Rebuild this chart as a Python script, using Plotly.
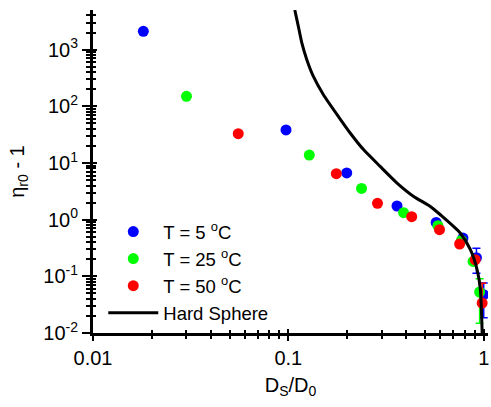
import plotly.graph_objects as go

# ---- data ----
blue_x = [0.0181, 0.0973, 0.199, 0.360, 0.571, 0.783, 0.918, 1.000]
blue_y = [2100, 38.2, 6.66, 1.74, 0.895, 0.474, 0.213, 0.0475]
blue_err = [0, 0, 0, 0, 0, 0, 0.10, 0.029]

green_x = [0.0301, 0.128, 0.237, 0.389, 0.583, 0.769, 0.882, 0.953]
green_y = [150, 13.8, 3.56, 1.33, 0.78, 0.43, 0.183, 0.0529]
green_err = [0, 0, 0, 0, 0, 0, 0, 0.038]

red_x = [0.0554, 0.176, 0.286, 0.428, 0.594, 0.753, 0.905, 0.982]
red_y = [32.9, 6.47, 1.94, 1.13, 0.665, 0.372, 0.196, 0.0338]
red_err = [0, 0, 0, 0, 0, 0, 0, 0.042]

hs_x = [0.1079, 0.1125, 0.1172, 0.1243, 0.1343, 0.1512, 0.1827, 0.2072, 0.2425,
        0.295, 0.360, 0.438, 0.533, 0.600, 0.758, 0.855, 0.925, 0.962, 0.982]
hs_y = [5000, 2572, 1310, 665, 337, 160, 62, 33.8, 17.2,
        8.7, 4.43, 2.57, 1.71, 1.22, 0.582, 0.295, 0.131, 0.058, 0.01]

legend_names = ["T = 5 <sup>o</sup>C", "T = 25 <sup>o</sup>C", "T = 50 <sup>o</sup>C", "Hard Sphere"]

x_tickvals = [0.01, 0.1, 1]
x_ticktext = ["0.01", "0.1", "1"]
y_tickvals = [0.01, 0.1, 1, 10, 100, 1000]
y_ticktext = ["10<sup>-2</sup>", "10<sup>-1</sup>", "10<sup>0</sup>",
              "10<sup>1</sup>", "10<sup>2</sup>", "10<sup>3</sup>"]

FONT = "Arial, Liberation Sans, sans-serif"

x_minor = [m * 10 ** e for e in (-2, -1) for m in range(2, 10)]
y_minor = [m * 10 ** e for e in (-2, -1, 0, 1, 2, 3) for m in range(2, 10) if m * 10 ** e < 5000]

XR = [-2, 0.022]
YR = [-2, 3.699]

fig = go.Figure()

def pts(x, y, err, color, name):
    fig.add_trace(go.Scatter(
        x=x, y=y, mode="markers", name=name,
        marker=dict(color=color, size=11, line=dict(width=0)),
        error_y=dict(type="data", array=err, visible=True, color=color,
                     thickness=1.5, width=4),
    ))

pts(blue_x, blue_y, blue_err, "#0000FF", legend_names[0])
pts(green_x, green_y, green_err, "#00FF00", legend_names[1])
pts(red_x, red_y, red_err, "#FF0000", legend_names[2])

fig.add_trace(go.Scatter(
    x=hs_x, y=hs_y, mode="lines", name=legend_names[3],
    line=dict(color="black", width=3, shape="spline", smoothing=0.6),
))

# dummy trace for overlay (inside-tick) axes
fig.add_trace(go.Scatter(x=[], y=[], xaxis="x2", yaxis="y2", showlegend=False,
                         hoverinfo="skip"))

axis_common = dict(type="log", showgrid=False, zeroline=False, automargin=False,
                   linecolor="black", linewidth=3, tickcolor="black",
                   tickwidth=2, tickfont=dict(family=FONT, size=20, color="black"))

fig.update_layout(
    width=491, height=407,
    margin=dict(l=93, r=3, t=10, b=74, autoexpand=False),
    paper_bgcolor="white", plot_bgcolor="white",
    font=dict(family=FONT, size=20, color="black"),
    showlegend=True,
    legend=dict(x=0.026, y=0.3715, xanchor="left", yanchor="top",
                bgcolor="rgba(0,0,0,0)", borderwidth=0,
                font=dict(family=FONT, size=18.5, color="black"),
                itemwidth=50, tracegroupgap=0),
    xaxis=dict(**axis_common, range=XR, showline=True,
               tickmode="array", tickvals=x_tickvals, ticktext=x_ticktext,
               ticks="outside", ticklen=5,
               minor=dict(tickmode="array", tickvals=x_minor, ticks="outside",
                          ticklen=3, tickwidth=2, tickcolor="black"),
               title=dict(text="D<sub>S</sub>/D<sub>0</sub>", standoff=10,
                          font=dict(family=FONT, size=20))),
    yaxis=dict(**axis_common, range=YR, showline=True,
               tickmode="array", tickvals=y_tickvals, ticktext=y_ticktext,
               ticks="outside", ticklen=8,
               minor=dict(tickmode="array", tickvals=y_minor, ticks="outside",
                          ticklen=4, tickwidth=2, tickcolor="black"),
               title=dict(text="η<sub>r0</sub> - 1", standoff=14,
                          font=dict(family=FONT, size=20))),
    xaxis2=dict(type="log", range=XR, overlaying="x", anchor="y", side="bottom",
                automargin=False,
                showgrid=False, zeroline=False, showline=False,
                showticklabels=False, tickmode="array", tickvals=x_tickvals,
                ticks="inside", ticklen=4, tickwidth=2, tickcolor="black",
                minor=dict(tickmode="array", tickvals=x_minor, ticks="inside",
                           ticklen=3, tickwidth=2, tickcolor="black")),
    yaxis2=dict(type="log", range=YR, overlaying="y", anchor="x", side="left",
                automargin=False,
                showgrid=False, zeroline=False, showline=False,
                showticklabels=False, tickmode="array", tickvals=y_tickvals,
                ticks="inside", ticklen=4, tickwidth=2, tickcolor="black",
                minor=dict(tickmode="array", tickvals=y_minor, ticks="inside",
                           ticklen=3, tickwidth=2, tickcolor="black")),
)

# remove the default page margin so the 491x407 figure fills the window exactly
fig.write_html("out.html",
               config={"displayModeBar": False},
               post_script="document.body.style.margin='0';"
                           "document.body.style.overflow='hidden';")
